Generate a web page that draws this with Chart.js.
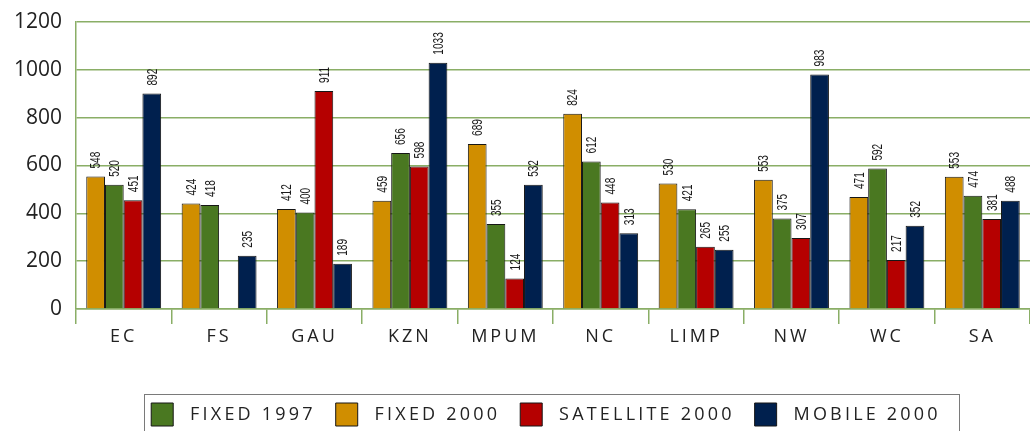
<!DOCTYPE html>
<html>
<head>
<meta charset="utf-8">
<script src="https://cdn.jsdelivr.net/npm/chart.js@4"></script>
<style>
  html, body { margin: 0; padding: 0; background: #fff; }
</style>
</head>
<body>
<canvas id="chart" width="1030" height="431"></canvas>
<script>
// ---------------- DATA ----------------
const categories = ['EC', 'FS', 'GAU', 'KZN', 'MPUM', 'NC', 'LIMP', 'NW', 'WC', 'SA'];

// bar heights as they are drawn in the picture
const fixed2000 = [554, 441, 418, 453, 690, 816, 525, 540, 468, 553];
const fixed1997 = [519, 435, 403, 652, 355, 617, 417, 378, 587, 474];
const satellite2000 = [455, null, 912, 596, 128, 445, 260, 297, 205, 376];
const mobile2000 = [901, 223, 189, 1030, 519, 317, 248, 981, 348, 453];

// numbers printed above the bars (they don't always agree with the bar heights)
const fixed2000Labels = [548, 424, 412, 459, 689, 824, 530, 553, 471, 553];
const fixed1997Labels = [520, 418, 400, 656, 355, 612, 421, 375, 592, 474];
const satellite2000Labels = [451, null, 911, 598, 124, 448, 265, 307, 217, 381];
const mobile2000Labels = [892, 235, 189, 1033, 532, 313, 255, 983, 352, 488];

const yTicks = [0, 200, 400, 600, 800, 1000, 1200];

// legend shows FIXED 1997 first, bars have FIXED 2000 first
const legendOrder = [1, 0, 2, 3];

const GRID = '#8AAE66';

// wraps a draw/fit method so canvas letterSpacing is applied only there
function withSpacing(obj, method, spacing) {
  if (!obj || obj['_sp_' + method]) return;
  const orig = obj[method];
  obj[method] = function (...args) {
    const ctx = this.ctx;
    ctx.save();
    ctx.letterSpacing = spacing;
    const r = orig.apply(this, args);
    ctx.restore();
    return r;
  };
  obj['_sp_' + method] = true;
}

const spacingPlugin = {
  id: 'spacing',
  beforeLayout(chart) {
    withSpacing(chart.scales.x, 'drawLabels', '3px');
    withSpacing(chart.legend, 'fit', '3.2px');
    withSpacing(chart.legend, 'draw', '3.2px');
  },
  afterLayout(chart) {
    // legend is centred under the plot area in the original, not under the whole canvas
    if (chart.legend) chart.legend.left = 62;
  }
};

// -------- rotated, narrow value labels --------
const valueLabels = {
  id: 'valueLabels',
  afterDatasetsDraw(chart, args, opts) {
    const ctx = chart.ctx;
    chart.data.datasets.forEach((ds, di) => {
      const meta = chart.getDatasetMeta(di);
      const printed = opts.labels[di];
      meta.data.forEach((bar, i) => {
        if (printed[i] == null || ds.data[i] == null) return;
        ctx.save();
        ctx.translate(bar.x + 1, bar.y - 8);
        ctx.rotate(-Math.PI / 2);
        ctx.scale(0.72, 1);
        ctx.font = '14px "Liberation Sans", Arial, sans-serif';
        ctx.fillStyle = '#1a1a1a';
        ctx.textAlign = 'left';
        ctx.textBaseline = 'middle';
        ctx.fillText(String(printed[i]), 0, 0);
        ctx.restore();
      });
    });
  }
};

// -------- frame round the legend --------
const legendFrame = {
  id: 'legendFrame',
  afterDraw(chart) {
    const boxes = chart.legend && chart.legend.legendHitBoxes;
    if (!boxes || !boxes.length) return;
    const left = Math.min(...boxes.map(b => b.left)) - 7;
    const right = Math.max(...boxes.map(b => b.left + b.width)) + 18;
    const top = Math.min(...boxes.map(b => b.top)) - 9;
    const ctx = chart.ctx;
    ctx.save();
    ctx.strokeStyle = '#7a7a7a';
    ctx.lineWidth = 1;
    ctx.strokeRect(Math.round(left) + 0.5, Math.round(top) + 0.5, Math.round(right - left), 80);
    ctx.restore();
  }
};

function makeSet(label, data, color) {
  return {
    label: label,
    data: data,
    backgroundColor: color,
    borderColor: '#161616',
    borderWidth: 1,
    borderSkipped: 'bottom',
    categoryPercentage: 0.785,
    barPercentage: 1.0
  };
}

const chart = new Chart(document.getElementById('chart'), {
  type: 'bar',
  data: {
    labels: categories,
    datasets: [
      makeSet('FIXED 2000', fixed2000, '#D08E00'),
      makeSet('FIXED 1997', fixed1997, '#4A7821'),
      makeSet('SATELLITE 2000', satellite2000, '#B50000'),
      makeSet('MOBILE 2000', mobile2000, '#00204E')
    ]
  },
  options: {
    responsive: false,
    devicePixelRatio: 1,
    animation: false,
    layout: { padding: { left: 0, right: 0, top: 22, bottom: -5 } },
    plugins: {
      tooltip: { enabled: false },
      legend: {
        position: 'bottom',
        labels: {
          boxWidth: 22,
          boxHeight: 23,
          padding: 20,
          color: '#222',
          font: { family: '"Open Sans", sans-serif', size: 18 },
          sort: (a, b) => legendOrder.indexOf(a.datasetIndex) - legendOrder.indexOf(b.datasetIndex),
          generateLabels(c) {
            const items = Chart.defaults.plugins.legend.labels.generateLabels(c);
            items.forEach(it => {
              it.text = ' ' + it.text;
              it.strokeStyle = '#161616';
              it.lineWidth = 1;
            });
            return items;
          }
        }
      },
      valueLabels: {
        labels: [fixed2000Labels, fixed1997Labels, satellite2000Labels, mobile2000Labels]
      }
    },
    scales: {
      x: {
        grid: {
          display: true,
          drawOnChartArea: false,
          drawTicks: true,
          tickLength: 15,
          color: GRID,
          lineWidth: 1.5,
          offset: true
        },
        border: { color: GRID, width: 1.5 },
        ticks: {
          color: '#222',
          padding: 2,
          font: { family: '"Open Sans", sans-serif', size: 18 }
        },
        afterFit(s) { s.height = 74; s.paddingLeft = 0; s.paddingRight = 0; }
      },
      y: {
        min: 0,
        max: 1200,
        afterBuildTicks(s) { s.ticks = yTicks.map(v => ({ value: v })); },
        grid: { color: GRID, lineWidth: 1.5, drawTicks: false },
        border: { color: GRID, width: 1.5 },
        ticks: {
          color: '#222',
          padding: 14,
          font: { family: '"Open Sans", sans-serif', size: 21 },
          callback: v => String(v)
        },
        afterFit(s) { s.width = 76; s.paddingTop = 0; s.paddingBottom = 0; }
      }
    }
  },
  plugins: [spacingPlugin, valueLabels, legendFrame]
});
</script>
</body>
</html>
